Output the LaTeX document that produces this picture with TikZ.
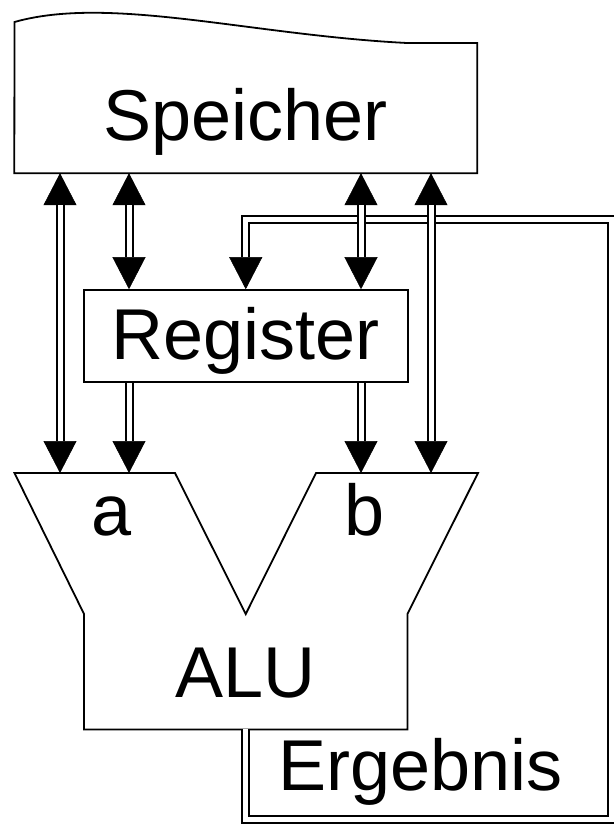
\documentclass[tikz,border=0pt]{standalone}
\usepackage{fontspec}
\setmainfont{Liberation Sans}
\usetikzlibrary{positioning, arrows.meta}

\begin{document}
\begin{tikzpicture}[
  x=1bp, y=-1bp,
  >={Triangle[length=32bp, width=33bp]},
  every node/.style={font=\fontsize{72bp}{80bp}\selectfont, inner sep=0pt,
    text height=52bp, text depth=15bp},
  outline/.style={draw=black, line width=1.8bp, line join=miter},
  block/.style={outline, minimum width=324bp, minimum height=92bp},
  head/.style={line width=0.5bp},
  bus/.style={double=white, double distance=5bp, line width=2bp,
    shorten >=32bp},
  busboth/.style={bus, shorten <=32bp},
]
  \useasboundingbox (0,0) rectangle (614,825);

  \node[minimum width=462.5bp, minimum height=103bp] (speicher) at (245.75,121.5) {Speicher};
  \node[block, text depth=6bp, below=116bp of speicher] (register) {Register};
  \node[minimum width=323bp, minimum height=115bp, text depth=1bp,
        below=231bp of register] (alu) {ALU};
  \node[anchor=north, inner ysep=10.5bp] (ina) at (112,473) {a};
  \node[anchor=north, inner ysep=10.5bp] (inb) at (365,473) {b};
  \node[anchor=base west] (ergebnis) at (278,790) {Ergebnis};

  % columns of the buses
  \coordinate (c1) at (60,0);
  \coordinate (c2) at (129,0);
  \coordinate (c3) at (361,0);
  \coordinate (c4) at (431,0);

  \draw[outline] (speicher.south west) -- (14.5,22)
    .. controls (110,-5) and (250,35) .. (407,43)
    -- (speicher.east |- 0,43) -- (speicher.south east) -- cycle;
  \draw[outline] (alu.south west) -- (alu.north west) -- (14.5,473) -- (175,473)
    -- (alu.north) -- (316,473) -- (478,473) -- (alu.north east)
    -- (alu.south east) -- cycle;

  % heads first, the double lines go over them
  \draw[head, ->] (alu.south) |- (611.5,819.5) -- (611.5,219) -| (register.north);
  \draw[head, <->] (speicher.south -| c1) -- (ina.north -| c1);
  \draw[head, <->] (speicher.south -| c2) -- (register.north -| c2);
  \draw[head, <->] (speicher.south -| c3) -- (register.north -| c3);
  \draw[head, <->] (speicher.south -| c4) -- (inb.north -| c4);
  \draw[head, ->] (register.south -| c2) -- (ina.north -| c2);
  \draw[head, ->] (register.south -| c3) -- (inb.north -| c3);

  \draw[bus] (alu.south) |- (611.5,819.5) -- (611.5,219) -| (register.north);
  \draw[busboth] (speicher.south -| c1) -- (ina.north -| c1);
  \draw[busboth] (speicher.south -| c2) -- (register.north -| c2);
  \draw[busboth] (speicher.south -| c3) -- (register.north -| c3);
  \draw[busboth] (speicher.south -| c4) -- (inb.north -| c4);
  \draw[bus] (register.south -| c2) -- (ina.north -| c2);
  \draw[bus] (register.south -| c3) -- (inb.north -| c3);
\end{tikzpicture}
\end{document}
